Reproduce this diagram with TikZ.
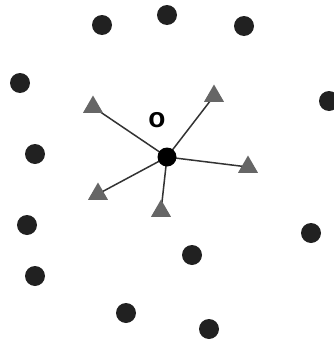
\documentclass[tikz,border=0pt]{standalone}
\usepackage{fontspec}
\setsansfont{Liberation Sans}
\usepackage{tikz}
\usetikzlibrary{shapes.geometric,backgrounds}
\tikzset{
  dot/.style={circle,fill=black!87,inner sep=0pt,minimum size=20pt},
  origin/.style={circle,fill=black,inner sep=0pt,minimum size=19pt},
  tri/.style={regular polygon,regular polygon sides=3,fill=black!60,inner sep=0pt,minimum size=23pt},
  spoke/.style={draw=black!80,line width=1.5pt},
  lab/.style={font=\sffamily\bfseries\fontsize{28}{28}\selectfont,inner sep=0pt}
}
\begin{document}
\begin{tikzpicture}[x=1pt,y=-1pt]
\useasboundingbox (0,0) rectangle (333,343);
% points
\foreach \n/\x/\y in {1/102/25, 2/167/15, 3/244/26, 4/20/83, 5/329/101,
                     6/35/154, 7/27/225, 8/311/233, 9/192/255, 10/35/276,
                     11/126/313, 12/209/329} {
  \node[dot] (p\n) at (\x,\y) {};
}
% neighbours of o
\foreach \n/\x/\y in {1/93/107, 2/214/96, 3/248/167, 4/98/194, 5/161/211} {
  \node[tri] (t\n) at (\x,\y) {};
}
\node[origin] (o) at (167,157) {};
\node[lab] (olab) at (157,120) {o};
% spokes
\begin{scope}[on background layer]
\foreach \n in {1,...,5} {
  \draw[spoke] (o.center) -- (t\n.center);
}
\end{scope}
\end{tikzpicture}
\end{document}
